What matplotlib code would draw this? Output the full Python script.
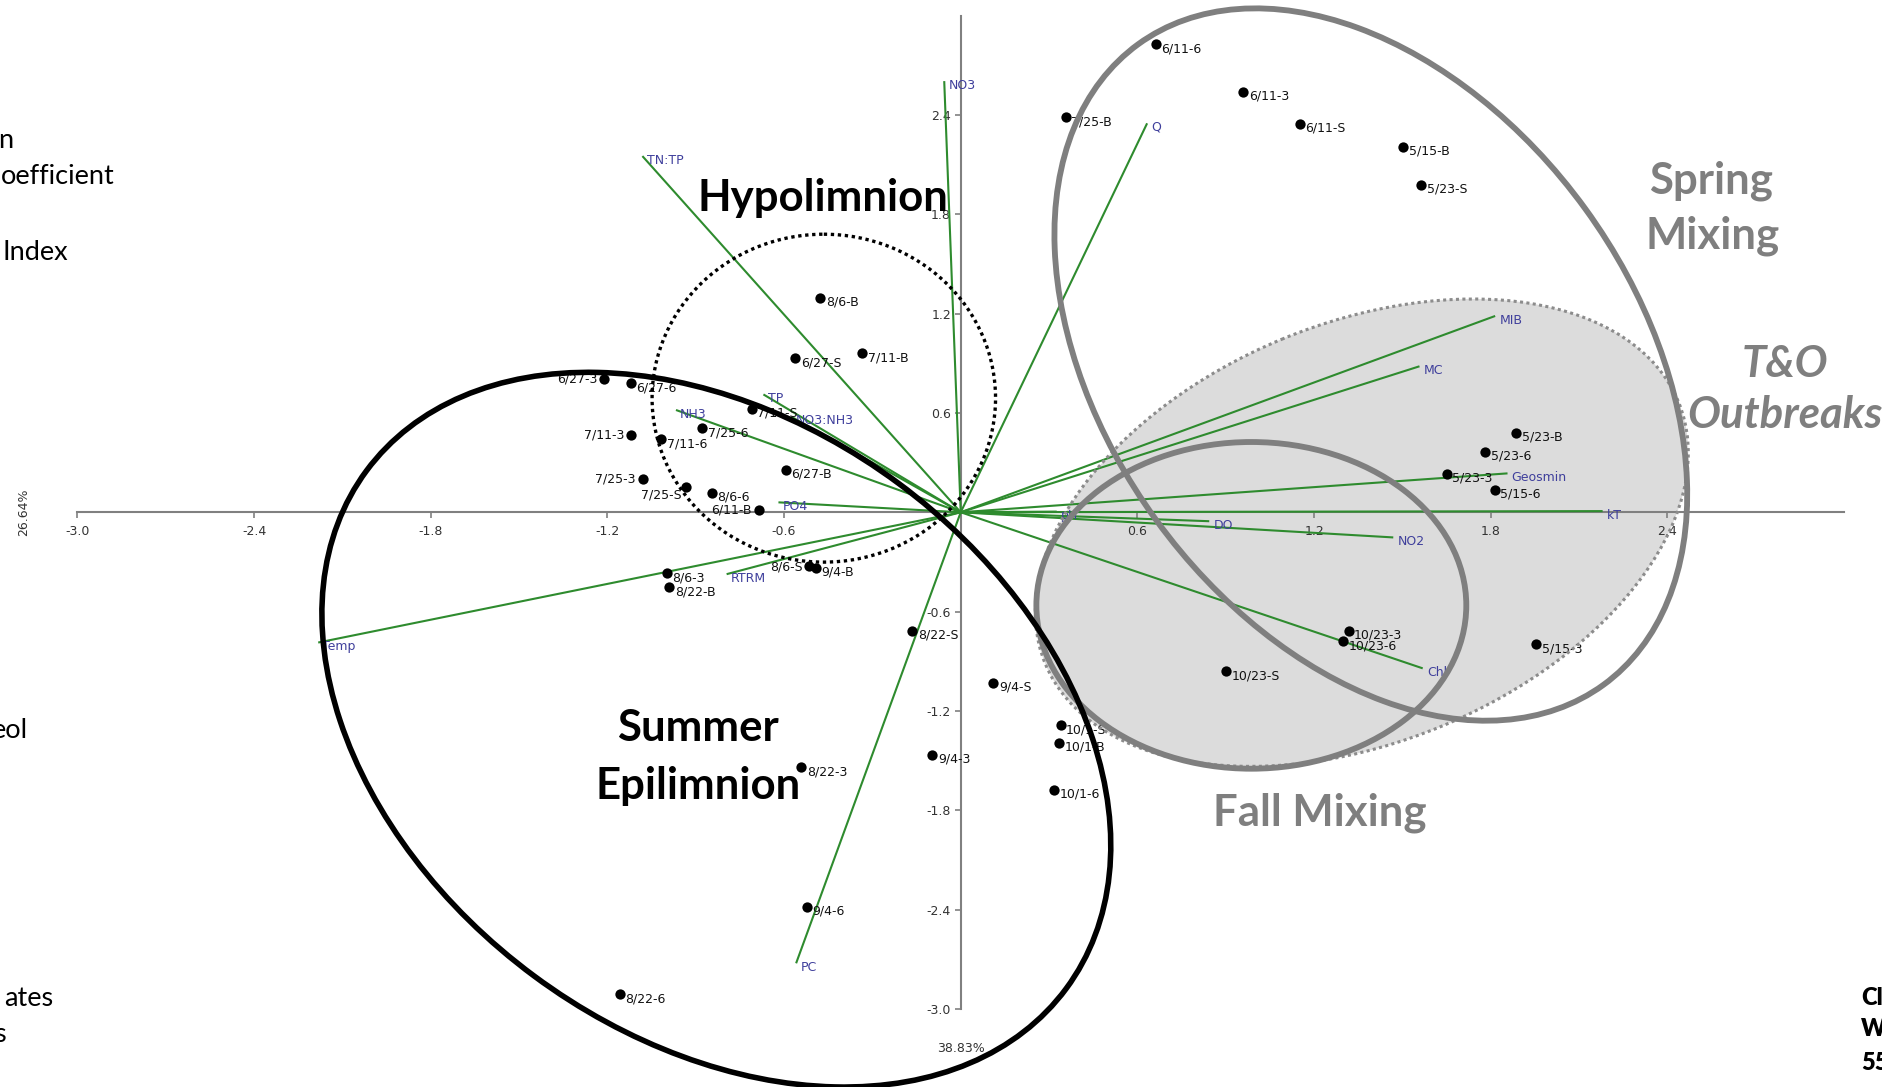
import matplotlib
matplotlib.use("Agg")
import matplotlib.pyplot as plt
from matplotlib.patches import Ellipse
from matplotlib.transforms import Affine2D

# ---------------- data ----------------
sample_labels = ["6/11-6", "6/11-3", "6/11-S", "5/15-B", "5/23-S", "7/25-B", "8/6-B", "7/11-B",
                 "6/27-S", "6/27-3", "6/27-6", "7/11-S", "7/11-3", "7/11-6", "7/25-6", "6/27-B",
                 "7/25-3", "7/25-S", "8/6-6", "6/11-B", "8/6-3", "8/22-B", "8/6-S", "9/4-B",
                 "8/22-S", "9/4-S", "10/1-S", "10/1-B", "10/1-6", "9/4-3", "8/22-3", "9/4-6",
                 "8/22-6", "10/23-3", "10/23-6", "10/23-S", "5/15-3", "5/23-B", "5/23-6",
                 "5/23-3", "5/15-6"]
sample_pc1 = [0.663, 0.960, 1.152, 1.503, 1.563, 0.356, -0.477, -0.334,
              -0.562, -1.211, -1.121, -0.709, -1.120, -1.018, -0.878, -0.595,
              -1.080, -0.934, -0.845, -0.685, -0.999, -0.989, -0.514, -0.493,
              -0.164, 0.111, 0.339, 0.334, 0.317, -0.096, -0.542, -0.522,
              -1.158, 1.317, 1.297, 0.901, 1.954, 1.886, 1.781,
              1.650, 1.814]
sample_pc2 = [2.827, 2.539, 2.348, 2.205, 1.979, 2.386, 1.295, 0.960,
              0.930, 0.803, 0.779, 0.623, 0.467, 0.440, 0.507, 0.255,
              0.202, 0.154, 0.118, 0.011, -0.369, -0.454, -0.323, -0.337,
              -0.718, -1.030, -1.288, -1.395, -1.677, -1.467, -1.542, -2.384,
              -2.913, -0.715, -0.780, -0.962, -0.798, 0.477, 0.366,
              0.231, 0.134]

var_labels = ["NO3", "Q", "TN:TP", "MIB", "MC", "Geosmin", "kT", "DO", "NO2", "Chl",
              "pH", "PC", "Temp", "RTRM", "PO4", "NO3:NH3", "TP", "NH3"]
var_pc1 = [-0.056, 0.633, -1.081, 1.815, 1.558, 1.857, 2.180, 0.844, 1.469, 1.569,
           0.326, -0.559, -2.182, -0.795, -0.619, -0.575, -0.670, -0.967]
var_pc2 = [2.605, 2.350, 2.152, 1.186, 0.882, 0.235, 0.007, -0.054, -0.152, -0.943,
           0.004, -2.725, -0.787, -0.374, 0.060, 0.577, 0.712, 0.618]

x_ticks = [-3.0, -2.4, -1.8, -1.2, -0.6, 0.6, 1.2, 1.8, 2.4]
y_ticks = [2.4, 1.8, 1.2, 0.6, -0.6, -1.2, -1.8, -2.4, -3.0]
pc1_label = "38.83%"
pc2_label = "26.64%"

# ---------------- styling ----------------
GREEN = "#2e8b2e"
VARCOL = "#3f3f9c"
AXCOL = "#808080"
GRAYTXT = "#7f7f7f"
BIGFONT = ["Lato", "DejaVu Sans"]

fig = plt.figure(figsize=(18.83, 10.87), dpi=100)
ax = fig.add_axes([0, 0, 1, 1])
ax.set_xlim(-800 / 245.2, (1568 - 800) / 245.2)
ax.set_ylim((426.5 - 905) / 137.8, 426.5 / 137.8)

# reference-layout coordinates (pixels of a 1568x905 frame, y down) -> data
REF = Affine2D().translate(-800, -426.5).scale(1 / 245.2, -1 / 137.8) + ax.transData

# axes through the origin
for s in ["top", "right"]:
    ax.spines[s].set_visible(False)
for s in ["left", "bottom"]:
    ax.spines[s].set_position(("data", 0))
    ax.spines[s].set_bounds(-3, 3)
    ax.spines[s].set_color(AXCOL)
    ax.spines[s].set_linewidth(1.5)
    ax.spines[s].set_zorder(1.5)
ax.set_xticks(x_ticks)
ax.set_xticklabels([f"{t:.1f}" for t in x_ticks])
ax.set_yticks(y_ticks)
ax.set_yticklabels([f"{t:.1f}" for t in y_ticks])
ax.tick_params(axis="x", direction="out", length=4, width=1.2, color=AXCOL,
               pad=5, labelsize=9, labelcolor="#333333")
ax.tick_params(axis="y", direction="out", length=4, width=1.2, color=AXCOL,
               pad=3, labelsize=9, labelcolor="#333333")

# T&O shaded region (behind everything)
ax.add_patch(Ellipse((1134, 443.5), 570.6, 348.6, angle=-22.5, transform=REF,
                     facecolor="#dcdcdc", edgecolor="none", zorder=0.5))

# variable vectors
for lab, x, y in zip(var_labels, var_pc1, var_pc2):
    ax.plot([0, x], [0, y], color=GREEN, lw=1.5, zorder=2, solid_capstyle="butt")
    ax.annotate(lab, (x, y), xytext=(3, -3), textcoords="offset points",
                ha="left", va="center", fontsize=9, color=VARCOL, zorder=4)

# sample scores
ax.scatter(sample_pc1, sample_pc2, s=55, color="black", zorder=3, linewidths=0)
left_labels = {"6/27-3": (-5, 0), "7/11-3": (-5, 0), "7/25-3": (-5, 0),
               "7/25-S": (-3, -6), "6/11-B": (-5, 0), "8/6-S": (-5, -1)}
for lab, x, y in zip(sample_labels, sample_pc1, sample_pc2):
    if lab in left_labels:
        off, ha = left_labels[lab], "right"
    else:
        off, ha = (4, -3), "left"
    ax.annotate(lab, (x, y), xytext=off, textcoords="offset points",
                ha=ha, va="center", fontsize=9, color="#111111", zorder=4)

# axis percentage labels
ax.text(0, -3.24, pc1_label, ha="center", va="center", fontsize=9, color="#333333")
ax.text(-3.181, 0.0, pc2_label, ha="center", va="center", rotation=90,
        fontsize=9, color="#333333")

# group outlines
ax.add_patch(Ellipse((1134, 443.5), 570.6, 348.6, angle=-22.5, transform=REF,
                     facecolor="none", edgecolor="#8c8c8c", lw=2.2,
                     linestyle=(0, (1, 1.1)), zorder=5))
ax.add_patch(Ellipse((1141.5, 303.5), 659.2, 441.4, angle=54, transform=REF,
                     fill=False, edgecolor="#7f7f7f", lw=4.2, zorder=5))
ax.add_patch(Ellipse((1042, 504), 358, 272, angle=0, transform=REF,
                     fill=False, edgecolor="#7f7f7f", lw=4.2, zorder=5))
ax.add_patch(Ellipse((686, 331.5), 286, 273, angle=0, transform=REF,
                     fill=False, edgecolor="black", lw=2.4,
                     linestyle=(0, (1, 1.1)), zorder=5))
ax.add_patch(Ellipse((596.5, 607.5), 724.8, 510.2, angle=36.5, transform=REF,
                     fill=False, edgecolor="black", lw=4.0, zorder=5))

# group titles
big = dict(transform=REF, ha="center", va="baseline", fontsize=31.5,
           fontweight="bold", family=BIGFONT, zorder=6)
ax.text(685, 176, "Hypolimnion", color="black", **big)
ax.text(581, 617, "Summer", color="black", **big)
ax.text(581, 665, "Epilimnion", color="black", **big)
ax.text(1425, 161, "Spring", color=GRAYTXT, **big)
ax.text(1426, 207, "Mixing", color=GRAYTXT, **big)
ax.text(1486, 314, "T&O", color=GRAYTXT, fontstyle="italic", **big)
ax.text(1486, 356, "Outbreaks", color=GRAYTXT, fontstyle="italic", **big)
ax.text(1099, 687, "Fall Mixing", color=GRAYTXT, **big)

# slide text fragments cut by the frame
W, H = 1883.0, 1087.0
for s, xr, yc in [("n", 13, 140), ("oefficient", 115, 177), ("Index", 68, 253),
                  ("eol", 28, 730), ("ates", 53, 998), ("s", 6, 1035)]:
    fig.text(xr / W, 1 - yc / H, s, ha="right", va="center", fontsize=19.5,
             family=BIGFONT, color="black")
for s, yc in [("Cl", 998), ("W", 1029), ("55", 1063)]:
    fig.text(1861 / W, 1 - yc / H, s, ha="left", va="center", fontsize=17,
             fontweight="heavy", family=BIGFONT, color="black")

fig.savefig("out.png", dpi=100)
